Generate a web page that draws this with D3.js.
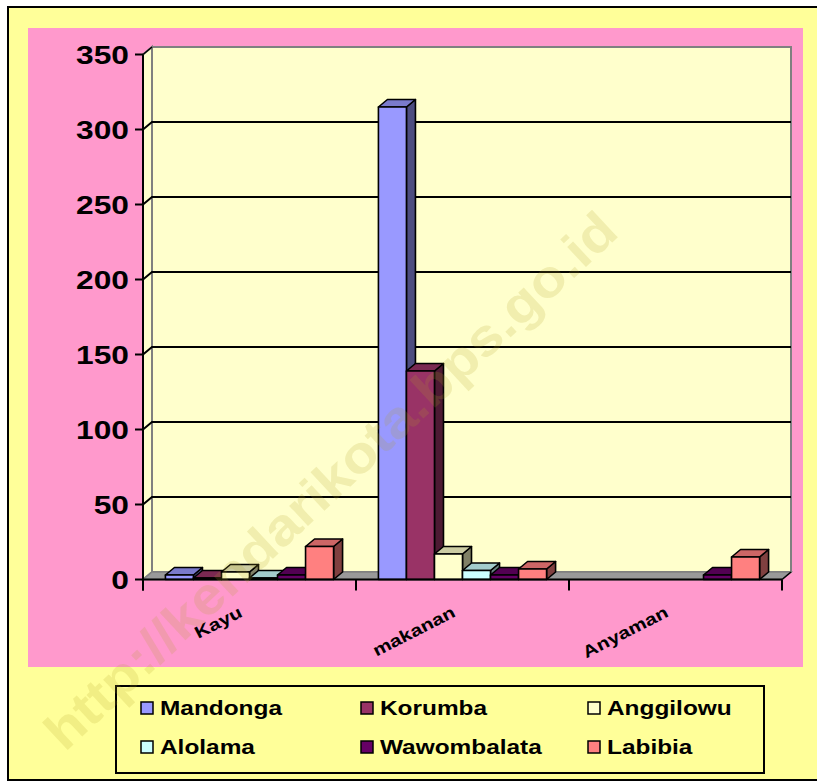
<!DOCTYPE html>
<html lang="en">
    <head>
        <meta charset="utf-8">
        <title>Industri per Kelurahan</title>
        <script src="https://cdn.jsdelivr.net/npm/d3@7"></script>
        <style type="text/css">
            body { margin: 0; background: #ffffff; }
            text { font-family: "Liberation Sans", Arial, sans-serif; font-weight: bold; fill: black; }
        </style>
    </head>
    <body>
        <script type="text/javascript">

            // data
            var categories = ["Kayu", "makanan", "Anyaman"];
            var seriesNames = ["Mandonga", "Korumba", "Anggilowu", "Alolama", "Wawombalata", "Labibia"];
            var seriesColors = ["#9999FF", "#993366", "#FFFFCC", "#CCFFFF", "#660066", "#FF8080"];
            var mandonga = [3, 315, 0];
            var korumba = [1, 139, 0];
            var anggilowu = [5, 17, 0];
            var alolama = [1, 6, 0];
            var wawombalata = [3, 3, 3];
            var labibia = [22, 7, 15];
            var yTicks = [0, 50, 100, 150, 200, 250, 300, 350];

            var seriesValues = [mandonga, korumba, anggilowu, alolama, wawombalata, labibia];

            var w = 817, h = 783;
            var dx = 9, dy = -7.5;   // 3d depth
            var stretchK = 1.22;     // the original fonts are drawn wide

            var svg = d3.select("body")
                .append("svg")
                .attr("width", w)
                .attr("height", h);

            function stretch(sel) {
                sel.each(function() {
                    var L = this.getComputedTextLength();
                    d3.select(this).attr("textLength", L * stretchK).attr("lengthAdjust", "spacingAndGlyphs");
                });
            }
            function shade(c, k) {
                var r = d3.rgb(c);
                return d3.rgb(r.r * k, r.g * k, r.b * k).toString();
            }

            // chart area + plot area
            svg.append("rect").attr("x", 8).attr("y", 7).attr("width", 830).attr("height", 773)
                .attr("fill", "#FFFF99").attr("stroke", "black").attr("stroke-width", 2);
            svg.append("rect").attr("x", 28).attr("y", 28).attr("width", 775).attr("height", 639)
                .attr("fill", "#FF99CC");

            var xScale = d3.scaleBand().domain(categories).range([143, 782]);
            var xInner = d3.scaleBand().domain(seriesNames).range([0, xScale.bandwidth()]).paddingOuter(0.8);
            var yScale = d3.scaleLinear().domain([0, 350]).range([579.5, 54.5]);

            var x0 = 143, x1 = 782, yb = yScale(0), yt = yScale(350);

            // back wall
            svg.append("rect").attr("x", x0 + dx).attr("y", yt + dy).attr("width", x1 - x0).attr("height", yb - yt)
                .attr("fill", "#FFFFCC").attr("stroke", "#808080").attr("stroke-width", 2);
            // side wall
            svg.append("path")
                .attr("d", "M" + x0 + "," + yb + "L" + x0 + "," + yt + "L" + (x0 + dx) + "," + (yt + dy) + "L" + (x0 + dx) + "," + (yb + dy) + "Z")
                .attr("fill", "#FFFFCC").attr("stroke", "#808080").attr("stroke-width", 2);

            // gridlines
            yTicks.forEach(function(t) {
                if (t == 0 || t == 350) return;
                var y = yScale(t);
                svg.append("path")
                    .attr("d", "M" + x0 + "," + y + "L" + (x0 + dx) + "," + (y + dy) + "L" + (x1 + dx) + "," + (y + dy))
                    .attr("fill", "none").attr("stroke", "black").attr("stroke-width", 2);
            });
            svg.append("path")
                .attr("d", "M" + x0 + "," + yt + "L" + (x0 + dx) + "," + (yt + dy))
                .attr("stroke", "black").attr("stroke-width", 1.5);

            // floor
            svg.append("path")
                .attr("d", "M" + x0 + "," + yb + "L" + (x0 + dx) + "," + (yb + dy) + "L" + (x1 + dx) + "," + (yb + dy) + "L" + x1 + "," + yb + "Z")
                .attr("fill", "#999999").attr("stroke", "#808080").attr("stroke-width", 1.5);

            // bars
            categories.forEach(function(cat, ci) {
                seriesNames.forEach(function(name, si) {
                    var v = seriesValues[si][ci];
                    if (v <= 0) return;
                    var bx = xScale(cat) + xInner(name), bw = xInner.bandwidth();
                    var by = yScale(v);
                    var c = seriesColors[si];
                    var g = svg.append("g").attr("stroke", "black").attr("stroke-width", 1.6).attr("stroke-linejoin", "round");
                    g.append("path")
                        .attr("d", "M" + (bx + bw) + "," + yb + "L" + (bx + bw + dx) + "," + (yb + dy) + "L" + (bx + bw + dx) + "," + (by + dy) + "L" + (bx + bw) + "," + by + "Z")
                        .attr("fill", shade(c, 0.5));
                    g.append("path")
                        .attr("d", "M" + bx + "," + by + "L" + (bx + dx) + "," + (by + dy) + "L" + (bx + bw + dx) + "," + (by + dy) + "L" + (bx + bw) + "," + by + "Z")
                        .attr("fill", shade(c, 0.8));
                    g.append("rect").attr("x", bx).attr("y", by).attr("width", bw).attr("height", yb - by)
                        .attr("fill", c);
                });
            });

            // axes
            var yAxis = svg.append("g");
            yAxis.append("line").attr("x1", x0).attr("x2", x0).attr("y1", yt).attr("y2", yb + 11)
                .attr("stroke", "black").attr("stroke-width", 2);
            yTicks.forEach(function(t) {
                yAxis.append("line").attr("x1", x0 - 8).attr("x2", x0).attr("y1", yScale(t)).attr("y2", yScale(t))
                    .attr("stroke", "black").attr("stroke-width", 2);
            });
            yAxis.selectAll("text.ytick")
                .data(yTicks)
                .enter()
                .append("text")
                .attr("class", "ytick")
                .attr("x", 129)
                .attr("y", function(d) { return yScale(d); })
                .attr("dy", "0.36em")
                .attr("text-anchor", "end")
                .style("font-size", "26px")
                .text(function(d) { return d; })
                .call(stretch);

            svg.append("line").attr("x1", x0).attr("x2", x1).attr("y1", yb).attr("y2", yb)
                .attr("stroke", "black").attr("stroke-width", 2);
            svg.append("line").attr("x1", x1).attr("x2", x1 + dx).attr("y1", yb).attr("y2", yb + dy)
                .attr("stroke", "black").attr("stroke-width", 1.5);
            [x0, x0 + xScale.bandwidth(), x0 + 2 * xScale.bandwidth(), x1].forEach(function(x) {
                svg.append("line").attr("x1", x).attr("x2", x).attr("y1", yb).attr("y2", yb + 11)
                    .attr("stroke", "black").attr("stroke-width", 2);
            });
            svg.selectAll("text.xlab")
                .data(categories)
                .enter()
                .append("text")
                .attr("class", "xlab")
                .attr("text-anchor", "end")
                .attr("transform", function(d) {
                    var cx = xScale(d) + xScale.bandwidth() / 2 - 6;
                    return "translate(" + cx + ",616) rotate(-27)";
                })
                .style("font-size", "17px")
                .text(function(d) { return d; })
                .call(stretch);

            // legend
            var legendX = [141, 361, 588];
            var legendY = [708, 747];
            svg.append("rect").attr("x", 116).attr("y", 686).attr("width", 648).attr("height", 87)
                .attr("fill", "#FFFF99").attr("stroke", "black").attr("stroke-width", 2);
            seriesNames.forEach(function(name, i) {
                var lx = legendX[i % 3], ly = legendY[Math.floor(i / 3)];
                svg.append("rect").attr("x", lx).attr("y", ly - 6).attr("width", 12).attr("height", 12)
                    .attr("fill", seriesColors[i]).attr("stroke", "black").attr("stroke-width", 1.5);
                svg.append("text").attr("x", lx + 19).attr("y", ly).attr("dy", "0.36em")
                    .style("font-size", "20px")
                    .text(name)
                    .call(stretch);
            });

            // watermark
            svg.append("text")
                .attr("transform", "translate(330,480) rotate(-43)")
                .attr("text-anchor", "middle")
                .attr("dy", "0.36em")
                .attr("textLength", 760)
                .attr("lengthAdjust", "spacingAndGlyphs")
                .style("font-size", "52px")
                .style("fill", "rgb(180,160,40)")
                .style("fill-opacity", 0.18)
                .text("http://kendarikota.bps.go.id");

        </script>
    </body>
</html>
